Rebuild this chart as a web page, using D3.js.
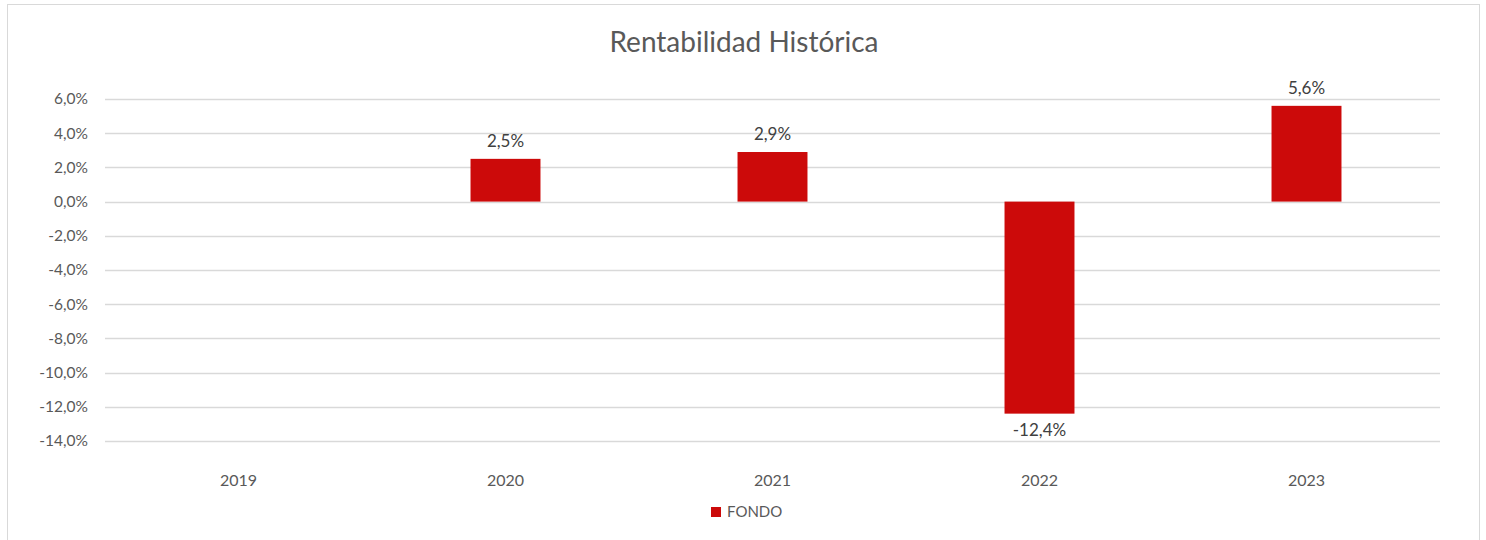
<!DOCTYPE html>
<html>
<head>
<meta charset="utf-8">
<script src="https://cdn.jsdelivr.net/npm/d3@7"></script>
<style>
  body { margin: 0; background: #fff; }
  svg { display: block; font-family: Lato, "Liberation Sans", sans-serif; }
</style>
</head>
<body>
<div id="chart"></div>
<script>
// data
const years = ["2019", "2020", "2021", "2022", "2023"];
const fondo = [null, 0.025, 0.029, -0.124, 0.056];
const yTicks = [0.06, 0.04, 0.02, 0, -0.02, -0.04, -0.06, -0.08, -0.10, -0.12, -0.14];

const width = 1486, height = 540;
const margin = {top: 99, right: 46, bottom: 99, left: 105};

const es = d3.formatLocale({decimal: ",", thousands: ".", grouping: [3], currency: ["", "€"], minus: "-"});
const pct = es.format(".1%");

const svg = d3.select("#chart").append("svg")
    .attr("width", width)
    .attr("height", height);

// outer frame
svg.append("rect")
    .attr("x", 7.5).attr("y", 4.5)
    .attr("width", 1472).attr("height", 560)
    .attr("fill", "none")
    .attr("stroke", "#d9d9d9");

const x = d3.scaleBand()
    .domain(years)
    .range([margin.left, width - margin.right]);

const y = d3.scaleLinear()
    .domain([-0.14, 0.06])
    .range([441, 99]);

// gridlines
svg.append("g")
  .selectAll("line")
  .data(yTicks)
  .join("line")
    .attr("x1", x.range()[0])
    .attr("x2", x.range()[1])
    .attr("y1", d => Math.round(y(d)) + 0.5)
    .attr("y2", d => Math.round(y(d)) + 0.5)
    .attr("stroke", "#d9d9d9")
    .attr("stroke-width", 1.5);

// y tick labels
svg.append("g")
  .selectAll("text")
  .data(yTicks)
  .join("text")
    .attr("x", 88)
    .attr("y", d => y(d))
    .attr("dy", "0.35em")
    .attr("text-anchor", "end")
    .attr("font-size", 15.5)
    .attr("fill", "#595959")
    .text(d => pct(d));

// bars
const barW = x.bandwidth() * 0.262;
const bars = years.map((k, i) => ({year: k, value: fondo[i]})).filter(d => d.value != null);

svg.append("g")
    .attr("fill", "#cc0a0a")
  .selectAll("rect")
  .data(bars)
  .join("rect")
    .attr("x", d => x(d.year) + (x.bandwidth() - barW) / 2)
    .attr("y", d => y(Math.max(0, d.value)))
    .attr("width", barW)
    .attr("height", d => Math.abs(y(d.value) - y(0)));

// data labels
svg.append("g")
  .selectAll("text")
  .data(bars)
  .join("text")
    .attr("x", d => x(d.year) + x.bandwidth() / 2)
    .attr("y", d => d.value >= 0 ? y(d.value) - 12 : y(d.value) + 22)
    .attr("text-anchor", "middle")
    .attr("font-size", 17)
    .attr("fill", "#404040")
    .text(d => pct(d.value));

// x labels
svg.append("g")
  .selectAll("text")
  .data(years)
  .join("text")
    .attr("x", d => x(d) + x.bandwidth() / 2)
    .attr("y", 480)
    .attr("dy", "0.35em")
    .attr("text-anchor", "middle")
    .attr("font-size", 16)
    .attr("fill", "#595959")
    .text(d => d);

// title
svg.append("text")
    .attr("x", 744)
    .attr("y", 42)
    .attr("dy", "0.35em")
    .attr("text-anchor", "middle")
    .attr("font-size", 28)
    .attr("fill", "#595959")
    .text("Rentabilidad Histórica");

// legend
const legend = svg.append("g");
legend.append("rect")
    .attr("x", 711).attr("y", 507)
    .attr("width", 10).attr("height", 10)
    .attr("fill", "#cc0a0a");
legend.append("text")
    .attr("x", 727).attr("y", 512)
    .attr("dy", "0.35em")
    .attr("font-size", 15)
    .attr("fill", "#595959")
    .text("FONDO");
</script>
</body>
</html>
